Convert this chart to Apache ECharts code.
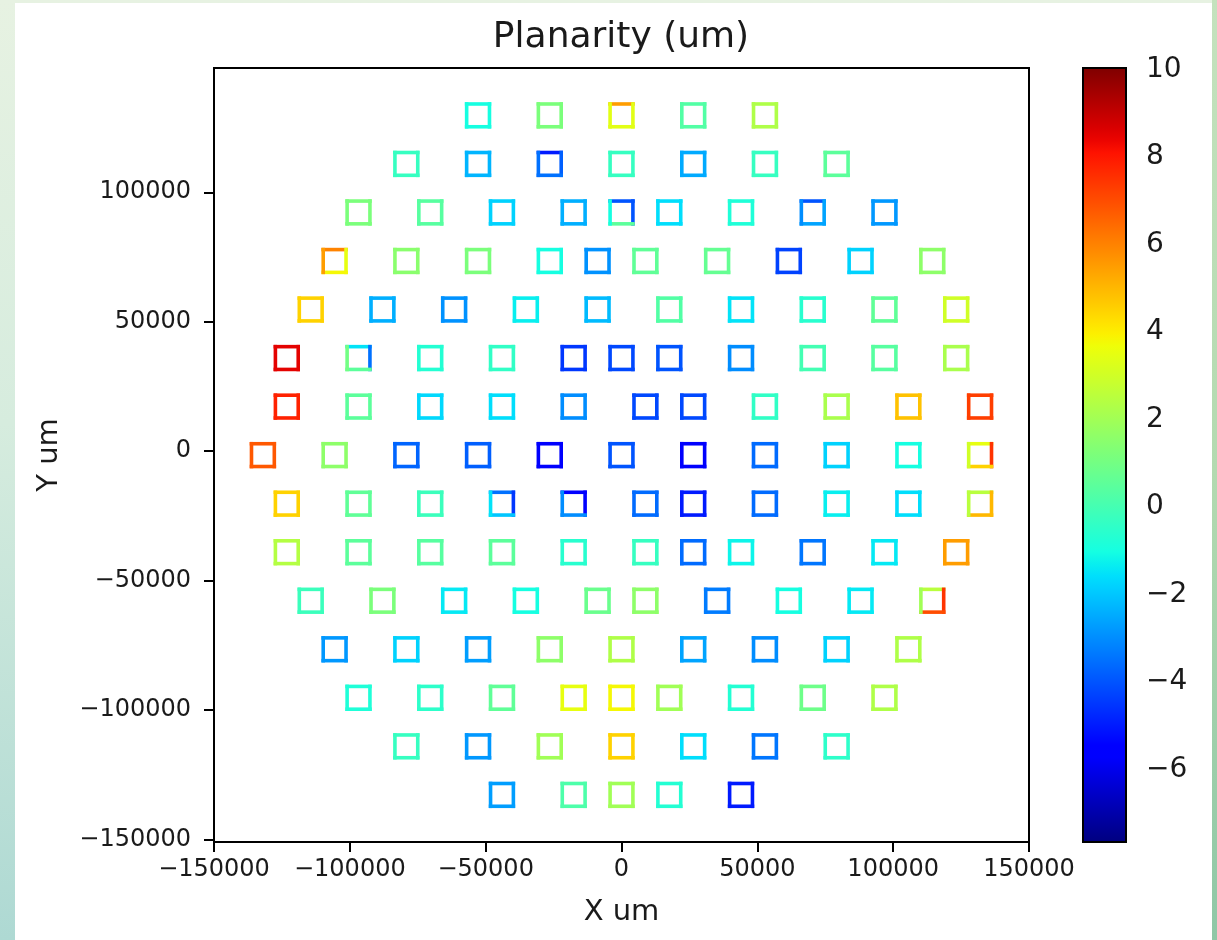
<!DOCTYPE html>
<html>
<head>
<meta charset="utf-8">
<title>Planarity (um)</title>
<script src="https://cdn.jsdelivr.net/npm/echarts@6/dist/echarts.min.js"></script>
<style>
  html, body { margin: 0; padding: 0; width: 1217px; height: 940px; overflow: hidden; }
  body { background: linear-gradient(to bottom, #e7f2e2 0%, #d6ecde 45%, #aed9d3 100%); position: relative; }
  #rightStrip { position: absolute; left: 1212px; top: 0; width: 5px; height: 940px;
    background: linear-gradient(to bottom, #c4e2bd 0%, #b3dab0 50%, #8fc7a6 100%); }
  #panel { position: absolute; left: 15px; top: 3px; width: 1197px; height: 937px; background: #fff; }
  #chart { position: absolute; left: 0; top: 0; width: 1217px; height: 940px; }
</style>
</head>
<body>
<div id="rightStrip"></div>
<div id="panel"></div>
<div id="chart"></div>
<script>
// Die centre rows (Y, um), top to bottom
const rowY = [129700, 110950, 92200, 73450, 54700, 35950, 17200, -1550,
  -20300, -39050, -57800, -76550, -95300, -114050, -132800];

// Die centre X positions (um) in each row
const rowX = [
  [-52800, -26400, 0, 26400, 52800],
  [-79200, -52800, -26400, 0, 26400, 52800, 79200],
  [-96800, -70400, -44000, -17600, 0, 17600, 44000, 70400, 96800],
  [-105600, -79200, -52800, -26400, -8800, 8800, 35200, 61600, 88000, 114400],
  [-114400, -88000, -61600, -35200, -8800, 17600, 44000, 70400, 96800, 123200],
  [-123200, -96800, -70400, -44000, -17600, 0, 17600, 44000, 70400, 96800, 123200],
  [-123200, -96800, -70400, -44000, -17600, 8800, 26400, 52800, 79200, 105600, 132000],
  [-132000, -105600, -79200, -52800, -26400, 0, 26400, 52800, 79200, 105600, 132000],
  [-123200, -96800, -70400, -44000, -17600, 8800, 26400, 52800, 79200, 105600, 132000],
  [-123200, -96800, -70400, -44000, -17600, 8800, 26400, 44000, 70400, 96800, 123200],
  [-114400, -88000, -61600, -35200, -8800, 8800, 35200, 61600, 88000, 114400],
  [-105600, -79200, -52800, -26400, 0, 26400, 52800, 79200, 105600],
  [-96800, -70400, -44000, -17600, 0, 17600, 44000, 70400, 96800],
  [-79200, -52800, -26400, 0, 26400, 52800, 79200],
  [-44000, -17600, 0, 17600, 44000]
];

// Planarity per die (um)
const rowVal = [
  [-1.0, 1.2, 3.4, 0.3, 2.3],
  [-0.3, -2.3, -3.5, -0.3, -2.5, -0.3, 0.5],
  [1.2, 0.4, -1.8, -2.4, -2.0, -1.6, -0.8, -2.6, -2.8],
  [4.5, 1.5, 1.2, -1.0, -2.9, 0.6, 0.7, -4.3, -1.8, 1.6],
  [4.5, -2.4, -2.9, -1.3, -2.2, 0.3, -1.5, -0.6, 0.6, 3.0],
  [8.5, -1.0, -0.7, -0.4, -4.5, -4.2, -4.0, -3.0, 0.0, 0.4, 2.2],
  [7.8, 0.5, -1.7, -1.6, -3.0, -4.2, -4.2, -0.4, 2.2, 4.8, 7.3],
  [6.8, 1.6, -3.7, -3.8, -5.6, -4.0, -5.6, -3.6, -1.8, -1.0, 4.0],
  [4.5, 0.6, -0.2, -3.2, -4.6, -3.6, -5.0, -3.6, -1.3, -1.6, 3.6],
  [2.4, 0.5, 0.4, 0.5, -0.6, -0.3, -3.6, -1.2, -3.4, -1.4, 5.5],
  [-0.2, 1.2, -1.4, -1.0, 0.8, 1.6, -3.3, -1.0, -1.4, 5.5],
  [-2.8, -1.8, -2.7, 1.6, 2.3, -2.6, -3.0, -1.8, 2.3],
  [-0.8, -0.5, 0.6, 3.5, 3.8, 2.0, -0.7, 0.9, 2.3],
  [-0.3, -2.8, 2.0, 4.5, -1.6, -3.4, -0.5],
  [-2.7, 0.2, 2.0, -0.7, -5.0]
];

// Edges that differ from their die value: [row, die index, side, value]
// side: 0 top, 1 right, 2 bottom, 3 left
const edgeVal = [
  [0, 2, 0, 5.5],
  [1, 2, 0, -5.0], [1, 2, 1, -3.8],
  [2, 4, 0, -4.0], [2, 4, 1, -4.0], [2, 4, 2, 0.5], [2, 4, 3, -1.0],
  [2, 7, 0, -4.0], [2, 7, 3, -3.0],
  [3, 0, 0, 6.0], [3, 0, 3, 5.5], [3, 0, 1, 3.5], [3, 0, 2, 3.8],
  [5, 1, 3, 1.0], [5, 1, 1, -3.5], [5, 1, 0, -1.5], [5, 1, 2, 0.5],
  [7, 10, 0, 3.5], [7, 10, 1, 7.5], [7, 10, 2, 4.5], [7, 10, 3, 3.0],
  [8, 3, 0, -3.5], [8, 3, 1, -4.5], [8, 3, 2, -2.0], [8, 3, 3, -1.5],
  [8, 4, 0, -5.5], [8, 4, 1, -5.5], [8, 4, 2, -3.0], [8, 4, 3, -3.0],
  [8, 10, 0, 2.5], [8, 10, 1, 5.0], [8, 10, 2, 5.0], [8, 10, 3, 2.5],
  [10, 9, 0, 2.5], [10, 9, 1, 7.5], [10, 9, 2, 7.0], [10, 9, 3, 2.0]
];

// Colour scale range (um)
const cbMin = -7.66, cbMax = 10.04;

// Tick labels
const xTicks = [-150000, -100000, -50000, 0, 50000, 100000, 150000];
const yTicks = [-150000, -100000, -50000, 0, 50000, 100000];
const cbTicks = [-6, -4, -2, 0, 2, 4, 6, 8, 10];

// ---- build series data: one item per die edge ----
const edgeMap = {};
edgeVal.forEach(e => { edgeMap[e[0] + '_' + e[1] + '_' + e[2]] = e[3]; });
const edges = [];
rowY.forEach((y, r) => {
  rowX[r].forEach((x, i) => {
    for (let s = 0; s < 4; s++) {
      const key = r + '_' + i + '_' + s;
      const v = key in edgeMap ? edgeMap[key] : rowVal[r][i];
      edges.push([x, y, s, v]);
    }
  });
});

// jet colour map
function jet(t) {
  const clamp = v => Math.max(0, Math.min(1, v));
  const seg = (t, pts) => {
    for (let i = 0; i < pts.length - 1; i++) {
      const a = pts[i], b = pts[i + 1];
      if (t >= a[0] && t <= b[0]) return a[1] + (b[1] - a[1]) * (t - a[0]) / (b[0] - a[0]);
    }
    return pts[pts.length - 1][1];
  };
  const r = seg(t, [[0, 0], [0.35, 0], [0.66, 1], [0.89, 1], [1, 0.5]]);
  const g = seg(t, [[0, 0], [0.125, 0], [0.375, 1], [0.64, 1], [0.91, 0], [1, 0]]);
  const b = seg(t, [[0, 0.5], [0.11, 1], [0.34, 1], [0.65, 0], [1, 0]]);
  const h = v => Math.round(clamp(v) * 255).toString(16).padStart(2, '0');
  return '#' + h(r) + h(g) + h(b);
}
const NSTOP = 65;
const jetColors = [];
for (let i = 0; i < NSTOP; i++) jetColors.push(jet(i / (NSTOP - 1)));

const minus = v => (v < 0 ? '\u2212' + Math.abs(v) : String(v));

const halfW = 4200, halfH = 4400; // half die size (um)
const FONT = 'DejaVu Sans';
const INK = '#1a1a1a';

const chart = echarts.init(document.getElementById('chart'), null, { renderer: 'canvas' });

chart.setOption({
  backgroundColor: 'transparent',
  animation: false,
  textStyle: { fontFamily: FONT, color: INK },
  graphic: [{
    type: 'text', x: 621, y: 38,
    style: { text: 'Planarity (um)', font: '36px "DejaVu Sans"', fill: INK, align: 'center', verticalAlign: 'middle' }
  }],
  grid: [
    { left: 214, top: 68, width: 815, height: 774, show: true, borderColor: '#000', borderWidth: 2, backgroundColor: 'transparent' },
    { left: 1083, top: 68, width: 43, height: 774, show: false }
  ],
  xAxis: [
    {
      gridIndex: 0, type: 'value', min: -150000, max: 150000, interval: 50000,
      name: 'X um', nameLocation: 'middle', nameGap: 56,
      nameTextStyle: { fontSize: 29, fontFamily: FONT, color: INK },
      axisLine: { show: true, onZero: false, lineStyle: { color: '#000', width: 2 } },
      axisTick: { show: true, inside: false, length: 10, lineStyle: { color: '#000', width: 2 }, customValues: xTicks },
      axisLabel: { fontSize: 24, fontFamily: FONT, color: INK, margin: 16, formatter: minus, customValues: xTicks },
      splitLine: { show: false }
    },
    { gridIndex: 1, type: 'value', min: 0, max: 1, show: false }
  ],
  yAxis: [
    {
      gridIndex: 0, type: 'value', min: -151000, max: 148000,
      name: 'Y um', nameLocation: 'middle', nameGap: 150,
      nameTextStyle: { fontSize: 29, fontFamily: FONT, color: INK },
      axisLine: { show: true, onZero: false, lineStyle: { color: '#000', width: 2 } },
      axisTick: { show: true, inside: false, length: 10, lineStyle: { color: '#000', width: 2 }, customValues: yTicks },
      axisLabel: { fontSize: 24, fontFamily: FONT, color: INK, margin: 23, formatter: minus, customValues: yTicks },
      splitLine: { show: false }
    },
    {
      gridIndex: 1, type: 'value', position: 'right', min: cbMin, max: cbMax,
      axisLine: { show: false },
      axisTick: { show: true, inside: false, length: 10, lineStyle: { color: '#000', width: 2 }, customValues: cbTicks },
      axisLabel: { fontSize: 28, fontFamily: FONT, color: INK, margin: 20, formatter: minus, customValues: cbTicks },
      splitLine: { show: false }
    }
  ],
  visualMap: {
    type: 'continuous', show: false, seriesIndex: 0, dimension: 3,
    min: cbMin, max: cbMax, inRange: { color: jetColors }
  },
  series: [
    {
      // die outlines, one line per edge
      type: 'custom', xAxisIndex: 0, yAxisIndex: 0, data: edges,
      encode: { x: 0, y: 1 },
      renderItem: function (params, api) {
        const x = api.value(0), y = api.value(1), s = api.value(2);
        const tl = api.coord([x - halfW, y + halfH]);
        const tr = api.coord([x + halfW, y + halfH]);
        const br = api.coord([x + halfW, y - halfH]);
        const bl = api.coord([x - halfW, y - halfH]);
        const seg = [[tl, tr], [tr, br], [br, bl], [bl, tl]][s];
        return {
          type: 'line',
          shape: { x1: seg[0][0], y1: seg[0][1], x2: seg[1][0], y2: seg[1][1] },
          style: { stroke: api.visual('color'), lineWidth: 3.6, lineCap: 'square' }
        };
      }
    },
    {
      // colour bar
      type: 'custom', xAxisIndex: 1, yAxisIndex: 1, data: [[0, cbMin]], silent: true,
      renderItem: function (params, api) {
        const p1 = api.coord([0, cbMax]);
        const p2 = api.coord([1, cbMin]);
        const stops = jetColors.map((c, i) => ({ offset: i / (jetColors.length - 1), color: c }));
        return {
          type: 'group',
          children: [
            { type: 'rect', shape: { x: p1[0], y: p1[1], width: p2[0] - p1[0], height: p2[1] - p1[1] },
              style: { fill: new echarts.graphic.LinearGradient(0, 1, 0, 0, stops) } },
            { type: 'rect', shape: { x: p1[0], y: p1[1], width: p2[0] - p1[0], height: p2[1] - p1[1] },
              style: { fill: 'none', stroke: '#000', lineWidth: 2 } }
          ]
        };
      }
    }
  ]
});
</script>
</body>
</html>
